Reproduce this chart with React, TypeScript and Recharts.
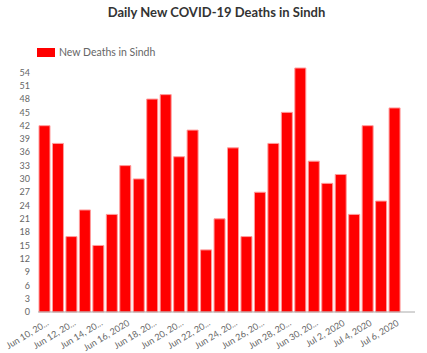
import { Bar, BarChart, XAxis, YAxis } from 'recharts'

const dates = [
  'Jun 10, 2020', 'Jun 11, 2020', 'Jun 12, 2020', 'Jun 13, 2020', 'Jun 14, 2020',
  'Jun 15, 2020', 'Jun 16, 2020', 'Jun 17, 2020', 'Jun 18, 2020', 'Jun 19, 2020',
  'Jun 20, 2020', 'Jun 21, 2020', 'Jun 22, 2020', 'Jun 23, 2020', 'Jun 24, 2020',
  'Jun 25, 2020', 'Jun 26, 2020', 'Jun 27, 2020', 'Jun 28, 2020', 'Jun 29, 2020',
  'Jun 30, 2020', 'Jul 1, 2020', 'Jul 2, 2020', 'Jul 3, 2020', 'Jul 4, 2020',
  'Jul 5, 2020', 'Jul 6, 2020', 'Jul 7, 2020',
]

// Jul 7 has no value yet
const deaths = [
  42, 38, 17, 23, 15, 22, 33, 30, 48, 49, 35, 41, 14, 21, 37, 17, 27, 38, 45, 55,
  34, 29, 31, 22, 42, 25, 46, null,
]

// labels shown on every other day
const tickLabels = [
  'Jun 10, 20...', 'Jun 12, 20...', 'Jun 14, 20...', 'Jun 16, 2020', 'Jun 18, 20...',
  'Jun 20, 20...', 'Jun 22, 20...', 'Jun 24, 20...', 'Jun 26, 20...', 'Jun 28, 20...',
  'Jun 30, 20...', 'Jul 2, 2020', 'Jul 4, 2020', 'Jul 6, 2020',
]

const yTicks = [0, 3, 6, 9, 12, 15, 18, 21, 24, 27, 30, 33, 36, 39, 42, 45, 48, 51, 54]

const data = dates.map((date, i) => ({ date, deaths: deaths[i] }))

const FONT = 'Lato, "Open Sans", sans-serif'

function DateTick(props: any) {
  const { x, y, payload } = props
  const idx = dates.indexOf(payload.value)
  const label = idx % 2 === 0 ? tickLabels[idx / 2] : ''
  return (
    <g transform={`translate(${x + 3},${y + 2})`}>
      <text
        textAnchor="end"
        transform="rotate(-31)"
        fontSize={9}
        fill="#666"
        fontFamily={FONT}
        dy="0.35em"
      >
        {label}
      </text>
    </g>
  )
}

export default function App() {
  return (
    <div style={{ position: 'absolute', left: 0, top: 0, width: 427, height: 353, fontFamily: FONT }}>
      <div
        style={{
          position: 'absolute',
          top: 4,
          left: 0,
          width: 433,
          textAlign: 'center',
          fontSize: 13,
          fontWeight: 700,
          color: '#333',
        }}
      >
        Daily New COVID-19 Deaths in Sindh
      </div>
      <div style={{ position: 'absolute', top: 46, left: 37, display: 'flex', alignItems: 'center' }}>
        <span style={{ display: 'inline-block', width: 18, height: 9, background: '#ff0000', marginRight: 4 }} />
        <span style={{ fontSize: 10.5, color: '#666' }}>New Deaths in Sindh</span>
      </div>
      <BarChart
        width={427}
        height={353}
        data={data}
        margin={{ top: 68, right: 12, bottom: 0, left: 0 }}
        barCategoryGap={1}
      >
        <XAxis
          dataKey="date"
          interval={0}
          height={41}
          tickLine={false}
          axisLine={{ stroke: '#aaa' }}
          tick={<DateTick />}
        />
        <YAxis
          width={38}
          domain={[0, 55]}
          ticks={yTicks}
          interval={0}
          tickLine={false}
          axisLine={false}
          fontSize={9}
          tick={{ fill: '#666', fontFamily: FONT }}
        />
        <Bar dataKey="deaths" fill="#ff0000" stroke="#ff9c9c" strokeWidth={1} isAnimationActive={false} />
      </BarChart>
    </div>
  )
}
